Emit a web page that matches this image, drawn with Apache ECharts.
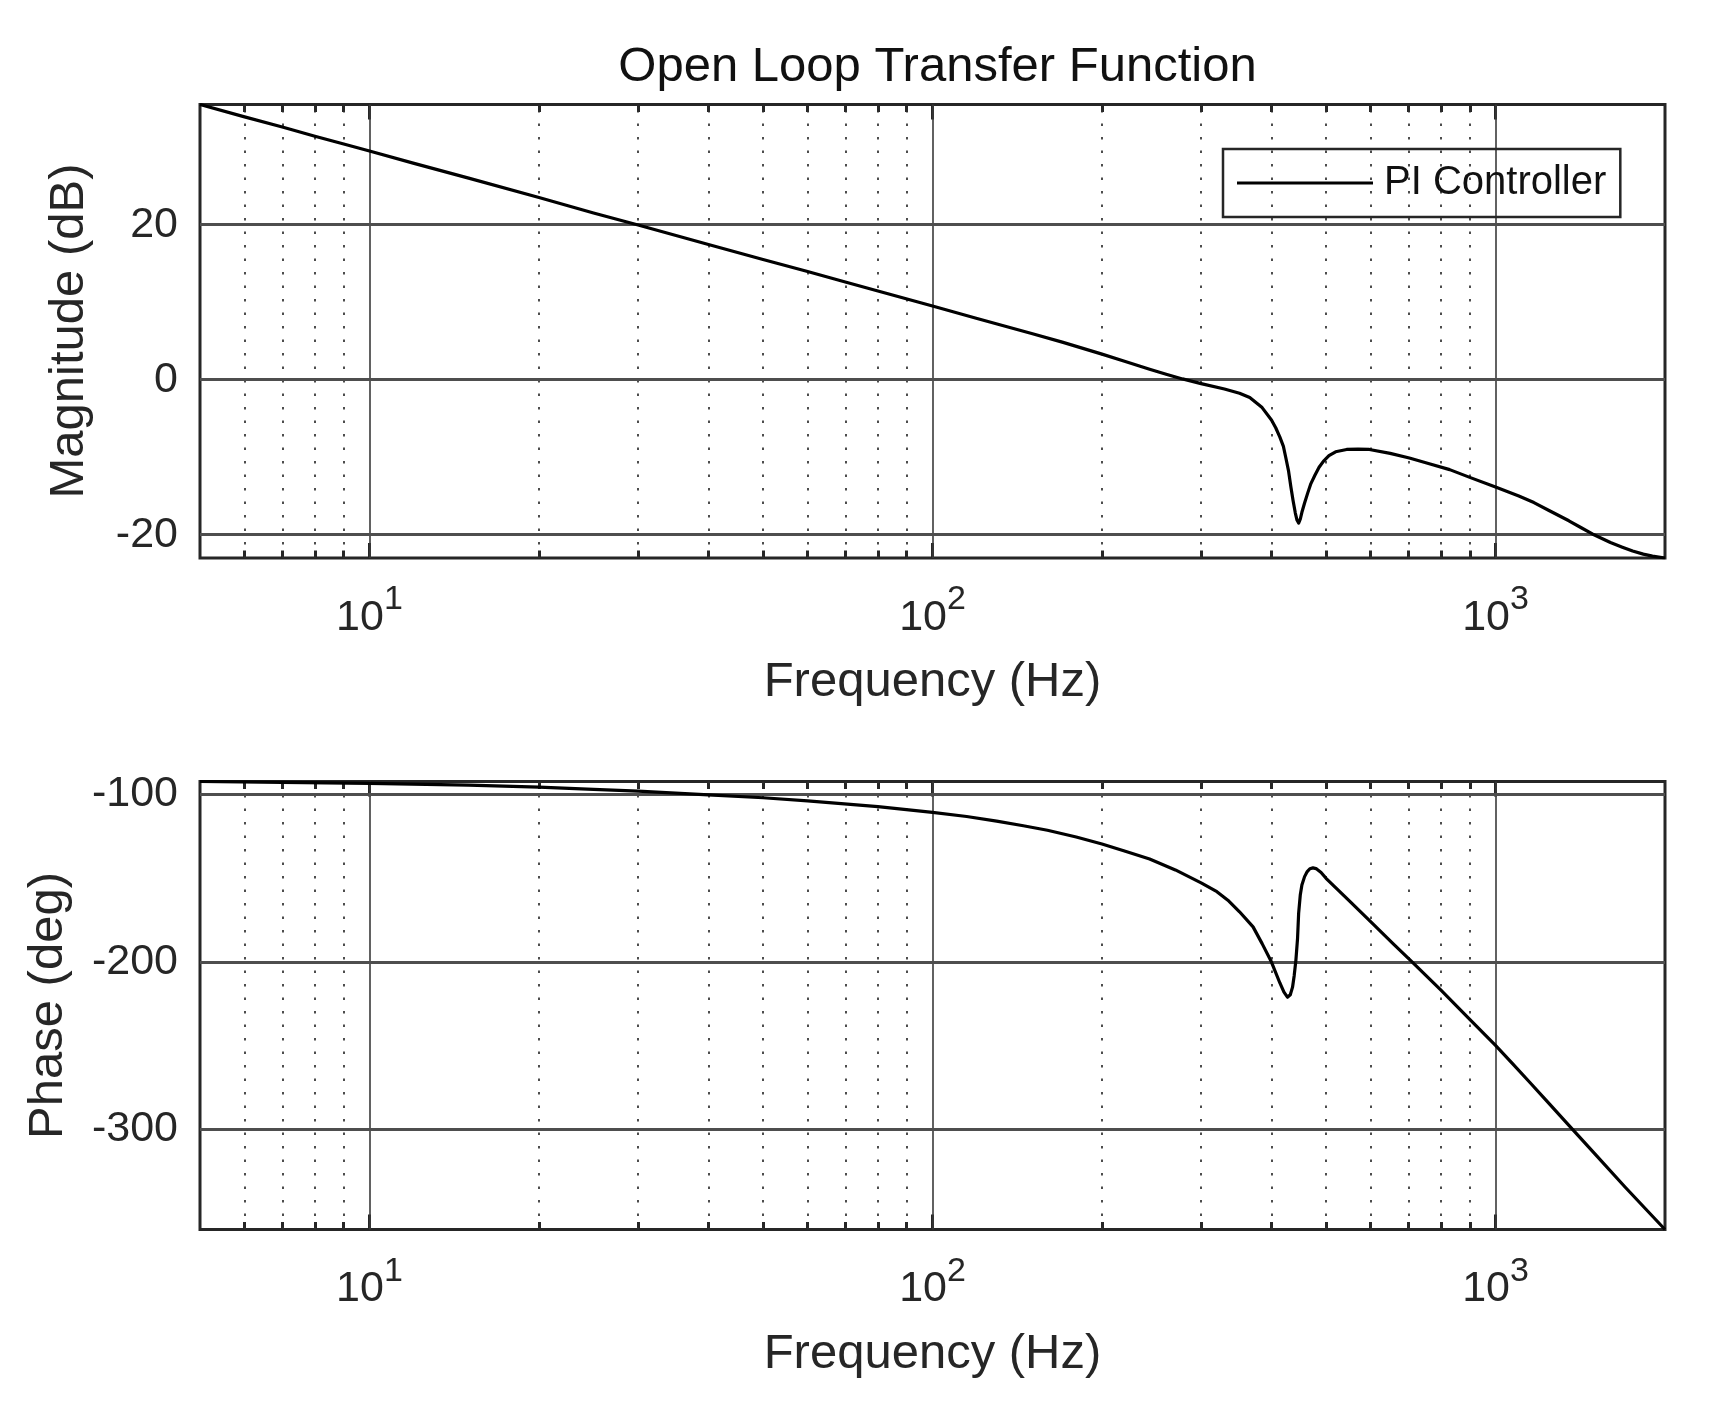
<!DOCTYPE html>
<html>
<head>
<meta charset="utf-8">
<script src="https://cdn.jsdelivr.net/npm/echarts@6/dist/echarts.min.js"></script>
<style>
  html, body { margin: 0; padding: 0; background: #fff; }
  #chart { width: 1725px; height: 1404px; }
</style>
</head>
<body>
<div id="chart"></div>
<script>
// ---------------- data ----------------
const magFreq = [5, 6, 7, 8, 9, 10, 12, 15, 20, 25, 30, 40, 50, 60, 70, 80, 100, 120, 150, 170, 200,
  220, 243, 260, 278, 300, 330, 351, 366, 385, 400, 407, 414, 420, 424, 429, 433, 437, 441, 444, 447, 450,
  453, 458, 464, 470, 478, 486, 495, 506, 520, 544, 570, 597, 650, 703, 760, 829, 900, 1000,
  1100, 1170, 1247, 1350, 1420, 1486, 1600, 1680, 1752, 1830, 1900, 2000];
const magDb = [35.5, 33.9, 32.6, 31.4, 30.4, 29.5, 27.9, 26.0, 23.5, 21.5, 19.95, 17.45, 15.5,
  13.95, 12.6, 11.45, 9.5, 7.9, 5.95, 4.85, 3.3, 2.35, 1.35, 0.7, 0.1, -0.5, -1.2, -1.75, -2.3, -3.6,
  -5.2, -6.2, -7.4, -8.6, -10.0, -11.8, -13.8, -15.6, -17.2, -18.1, -18.5, -18.0, -17.1, -15.9, -14.6,
  -13.4, -12.3, -11.3, -10.5, -9.8, -9.3, -9.0, -8.95, -9.0, -9.5, -10.1, -10.8, -11.6, -12.6, -13.85,
  -15.0, -15.85, -16.9, -18.2, -19.1, -19.9, -21.0, -21.6, -22.1, -22.5, -22.75, -23.0];

const phaseFreq = [5, 7, 10, 15, 20, 25, 30, 40, 50, 60, 80, 100, 115, 130, 145, 160, 180, 200, 220,
  243, 270, 300, 320, 336, 351, 371, 385, 400, 414, 421, 427, 432, 436, 439, 442, 445, 447, 450, 453,
  458, 463, 468, 474, 480, 490, 500, 550, 600, 659, 707, 800, 900, 1000, 1070, 1150, 1250, 1350,
  1500, 1700, 1850, 2000];
const phaseDeg = [-92.2, -92.7, -93.3, -94.4, -95.5, -96.9, -98.0, -100.2, -101.9, -103.8, -107.2,
  -110.6, -113.1, -115.9, -118.6, -121.3, -125.3, -129.5, -133.8, -138.5, -145.0, -152.7, -158.0,
  -163.6, -170.0, -179.0, -189.0, -200.0, -212.5, -218.0, -221.0, -219.5, -215.0, -208.0, -199.0,
  -186.0, -171.0, -160.0, -154.0, -149.0, -146.0, -144.3, -143.8, -144.2, -146.5, -150.0, -163.5,
  -175.9, -189.3, -199.2, -216.8, -234.2, -249.8, -260.4, -271.8, -285.1, -297.5, -314.4, -334.5,
  -347.6, -359.7];

const majorFreqs = [10, 100, 1000];
const minorFreqs = [6, 7, 8, 9, 20, 30, 40, 50, 60, 70, 80, 90, 200, 300, 400, 500, 600, 700, 800, 900];
const magTicks = [-20, 0, 20];
const phaseTicks = [-300, -200, -100];

const seriesName = 'PI Controller';
const titleText = 'Open Loop Transfer Function';
const xName = 'Frequency (Hz)';
const magName = 'Magnitude (dB)';
const phaseName = 'Phase (deg)';

// ---------------- styling ----------------
const FONT = '"Liberation Sans", Arial, Helvetica, sans-serif';
const TXT = '#262626';
const AX = '#262626';

const fMin = magFreq[0], fMax = magFreq[magFreq.length - 1];
const lgMin = Math.log10(fMin), lgMax = Math.log10(fMax);

const grids = [
  { left: 200, top: 104.5, width: 1465, height: 453.5 },
  { left: 200, top: 781.5, width: 1465, height: 448 }
];

function helperX(gridIndex, position, values, len, withLabels) {
  const ax = {
    type: 'value', gridIndex, position, min: lgMin, max: lgMax,
    axisLine: { show: false, onZero: false },
    splitLine: { show: false },
    axisTick: { show: true, inside: true, length: len, customValues: values,
      lineStyle: { color: AX, width: 3 } },
    axisLabel: { show: false },
    silent: true
  };
  if (withLabels) {
    ax.axisLabel = {
      show: true, customValues: majorFreqs.map(Math.log10), margin: 25,
      formatter: v => '{b|10}{s|' + Math.round(v) + '}',
      rich: {
        b: { fontSize: 43, lineHeight: 70, fontFamily: FONT, color: TXT },
        s: { fontSize: 34, lineHeight: 34, verticalAlign: 'top', fontFamily: FONT, color: TXT }
      }
    };
    ax.name = xName;
    ax.nameLocation = 'middle';
    ax.nameGap = 100;
    ax.nameTextStyle = { fontSize: 49, fontFamily: FONT, color: TXT };
  }
  return ax;
}

function xAxesFor(g) {
  return [
    { type: 'log', logBase: 10, gridIndex: g, min: fMin, max: fMax, show: false,
      axisLine: { onZero: false }, splitLine: { show: false } },
    helperX(g, 'bottom', majorFreqs.map(Math.log10), 15, true),
    helperX(g, 'bottom', minorFreqs.map(Math.log10), 7.5, false),
    helperX(g, 'top', majorFreqs.map(Math.log10), 15, false),
    helperX(g, 'top', minorFreqs.map(Math.log10), 7.5, false)
  ];
}

function yAxesFor(g, vals, ticks) {
  const mn = Math.min(...vals), mx = Math.max(...vals);
  return [
    { type: 'value', gridIndex: g, position: 'left', min: mn, max: mx,
      axisLine: { show: false, onZero: false }, splitLine: { show: false },
      axisTick: { show: true, inside: true, length: 15, customValues: ticks,
        lineStyle: { color: AX, width: 3 } },
      axisLabel: { show: true, customValues: ticks, margin: 22, fontSize: 43,
        fontFamily: FONT, color: TXT } },
    { type: 'value', gridIndex: g, position: 'right', min: mn, max: mx,
      axisLine: { show: false, onZero: false }, splitLine: { show: false },
      axisTick: { show: true, inside: true, length: 15, customValues: ticks,
        lineStyle: { color: AX, width: 3 } },
      axisLabel: { show: false } }
  ];
}

function gridLines(xIdx, yIdx, yTicks) {
  const data = [];
  minorFreqs.forEach(f => data.push({ xAxis: f,
    lineStyle: { color: '#2e2e2e', width: 1.7, type: [2.5, 11], opacity: 1 } }));
  majorFreqs.forEach(f => data.push({ xAxis: f,
    lineStyle: { color: '#3a3a3a', width: 1.6, type: 'solid', opacity: 1 } }));
  yTicks.forEach(v => data.push({ yAxis: v,
    lineStyle: { color: '#4e4e4e', width: 3, type: 'solid', opacity: 1 } }));
  return {
    type: 'line', xAxisIndex: xIdx, yAxisIndex: yIdx, data: [], silent: true, z: 1,
    markLine: { silent: true, symbol: ['none', 'none'], label: { show: false },
      animation: false, z: 1, data }
  };
}

const magData = magFreq.map((f, i) => [f, magDb[i]]);
const phaseData = phaseFreq.map((f, i) => [f, phaseDeg[i]]);

const option = {
  animation: false,
  backgroundColor: '#ffffff',
  title: {
    text: titleText, left: 932.5, top: 38, textAlign: 'center',
    textStyle: { fontSize: 49, fontWeight: 'normal', fontFamily: FONT, color: '#111' }
  },
  legend: {
    data: [{ name: seriesName, icon: 'rect' }], left: 1223, top: 149,
    padding: [14, 14, 14, 14], borderColor: AX, borderWidth: 2.5,
    itemWidth: 136, itemHeight: 2.8, selectedMode: false,
    itemStyle: { color: '#000' },
    textStyle: { fontSize: 40, fontFamily: FONT, color: '#111', padding: [0, 0, 0, 6] }
  },
  graphic: [
    { type: 'text', x: 69, y: 331, rotation: Math.PI / 2, silent: true,
      style: { text: magName, fontSize: 49, fontFamily: FONT, fill: TXT,
        align: 'center', verticalAlign: 'middle' } },
    { type: 'text', x: 48, y: 1005.5, rotation: Math.PI / 2, silent: true,
      style: { text: phaseName, fontSize: 49, fontFamily: FONT, fill: TXT,
        align: 'center', verticalAlign: 'middle' } }
  ],
  grid: grids.map(g => Object.assign({ show: true, borderColor: AX, borderWidth: 3,
    backgroundColor: 'transparent', containLabel: false }, g)),
  xAxis: [...xAxesFor(0), ...xAxesFor(1)],
  yAxis: [...yAxesFor(0, magDb, magTicks), ...yAxesFor(1, phaseDeg, phaseTicks)],
  series: [
    gridLines(0, 0, magTicks),
    gridLines(5, 2, phaseTicks),
    { name: seriesName, type: 'line', xAxisIndex: 0, yAxisIndex: 0, data: magData,
      symbol: 'none', showSymbol: false, smooth: false, z: 5,
      lineStyle: { color: '#000', width: 3.2, join: 'round' }, itemStyle: { color: '#000' } },
    { name: seriesName, type: 'line', xAxisIndex: 5, yAxisIndex: 2, data: phaseData,
      symbol: 'none', showSymbol: false, smooth: false, z: 5,
      lineStyle: { color: '#000', width: 3.2, join: 'round' }, itemStyle: { color: '#000' } }
  ]
};

const chart = echarts.init(document.getElementById('chart'), null, { renderer: 'canvas' });
chart.setOption(option);
</script>
</body>
</html>
